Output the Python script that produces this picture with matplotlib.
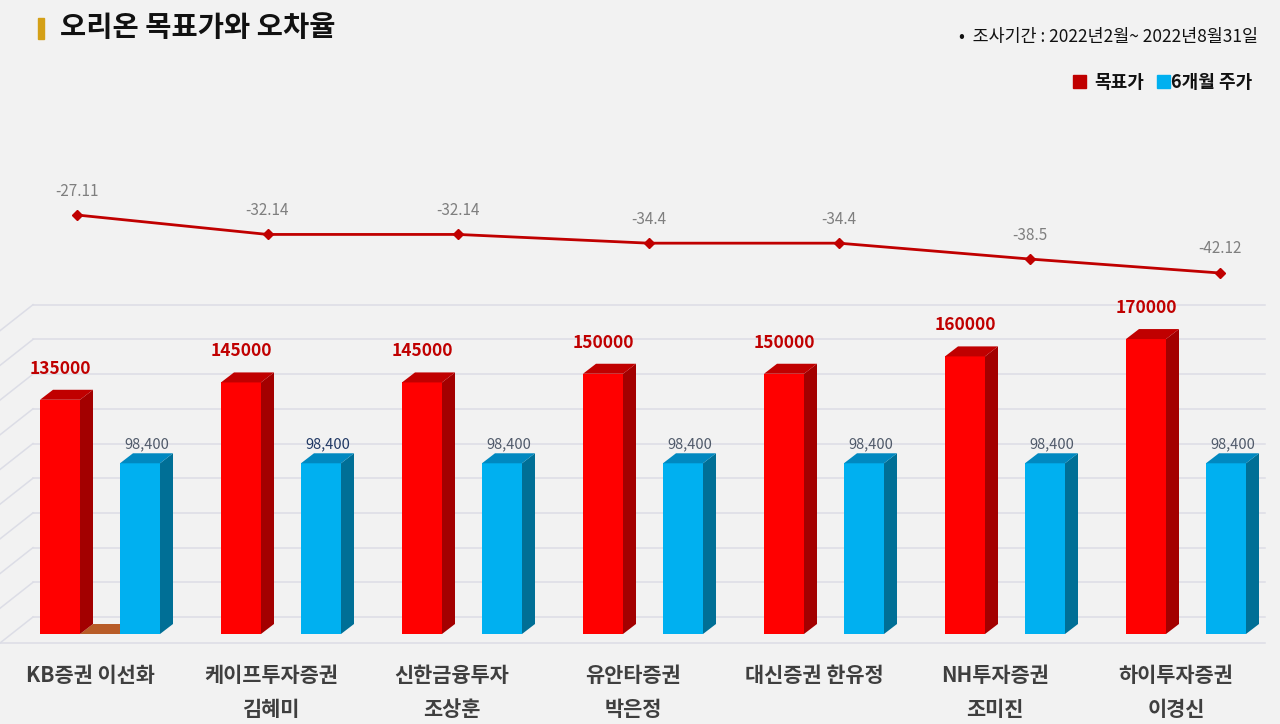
import numpy as np
import matplotlib
matplotlib.use("Agg")
import matplotlib.pyplot as plt
from matplotlib.patches import Polygon, Rectangle

plt.rcParams['font.family'] = ['Noto Sans CJK KR', 'DejaVu Sans']

# 데이터
categories = ["KB증권 이선화", "케이프투자증권\n김혜미", "신한금융투자\n조상훈", "유안타증권\n박은정",
              "대신증권 한유정", "NH투자증권\n조미진", "하이투자증권\n이경신"]
target_price = [135000, 145000, 145000, 150000, 150000, 160000, 170000]
price_6m = [98400, 98400, 98400, 98400, 98400, 98400, 98400]
error_rate = [-27.11, -32.14, -32.14, -34.4, -34.4, -38.5, -42.12]
grid_values = list(range(0, 180001, 20000))

W, H = 1280, 724
fig = plt.figure(figsize=(W / 100, H / 100), dpi=100)
fig.patch.set_facecolor('#f2f2f2')

# 막대용 축 (px 기준으로 스케일 맞춤)
px_x = 181.0          # 카테고리 간격 px
px_y = 1.735e-3       # 값 1당 px
x0_px, base_px = 100, 634
ax = fig.add_axes([0, 0, 1, 1])
ax.set_xlim(-x0_px / px_x, (W - x0_px) / px_x)
ax.set_ylim(-(H - base_px) / px_y, base_px / px_y)
ax.axis('off')
ax.set_facecolor('none')

def px2x(p):
    return p / px_x

def px2y(p):
    return p / px_y

# 벽 / 바닥 격자
wall_off = px2y(17)
x_wall_l = px2x(33 - x0_px)
x_wall_r = px2x(1265 - x0_px)
x_left = px2x(0 - x0_px)
for v in grid_values:
    y = v + wall_off
    ax.plot([x_wall_l, x_wall_r], [y, y], color='#dcdde6', lw=1.1, zorder=1)
    ax.plot([x_wall_l, x_left], [y, y - px2y(26)], color='#dcdde6', lw=1.1, zorder=1)
floor_y = -px2y(9)
ax.plot([x_left, x_wall_r], [floor_y, floor_y], color='#dcdde6', lw=1.1, zorder=1)

# 3D 막대
bw = px2x(40)
ddx, ddy = px2x(13), px2y(10)

def bar3d(xl, val, front, side, top):
    ax.bar(xl, val, width=bw, align='edge', color=front, zorder=3, linewidth=0)
    ax.add_patch(Polygon([[xl + bw, 0], [xl + bw + ddx, ddy], [xl + bw + ddx, val + ddy], [xl + bw, val]],
                         closed=True, color=side, zorder=3, lw=0))
    ax.add_patch(Polygon([[xl, val], [xl + ddx, val + ddy], [xl + bw + ddx, val + ddy], [xl + bw, val]],
                         closed=True, color=top, zorder=3, lw=0))

idx = np.arange(len(categories))
# 첫 그룹 바닥의 주황색 조각
ax.add_patch(Polygon([[0 - px2x(20), 0], [0 - px2x(20) + ddx, ddy], [px2x(20) + ddx, ddy], [px2x(20), 0]],
                     closed=True, color='#b85c28', zorder=2, lw=0))

for i in idx:
    xr = i - px2x(60)
    xb = i + px2x(20)
    bar3d(xr, target_price[i], '#ff0000', '#a30000', '#c00000')
    bar3d(xb, price_6m[i], '#00b0f0', '#006f96', '#0088c0')
    ax.text(xr + bw / 2, target_price[i] + px2y(31), f"{target_price[i]}", ha='center', va='center',
            fontsize=12.5, fontweight='bold', color='#c00000', zorder=5)
    c = '#203864' if i == 1 else '#505a6a'
    ax.text(xb + bw / 2 + px2x(7), price_6m[i] + px2y(19), f"{price_6m[i]:,}", ha='center', va='center',
            fontsize=10.5, color=c, zorder=5)
    lines = categories[i].split('\n')
    for k, ln in enumerate(lines):
        ax.text(i - px2x(10), -px2y(41 + 35 * k), ln, ha='center', va='center',
                fontsize=15, fontweight='bold', color='#3f3f3f')

# 오차율 꺾은선 (별도 축)
lx0, lpx = 77, 190.5
ly_pp = 3.864
ly0_px = 215 - 27.11 * ly_pp
ax2 = fig.add_axes([0, 0, 1, 1])
ax2.set_xlim(-lx0 / lpx, (W - lx0) / lpx)
ax2.set_ylim(-(H - ly0_px) / ly_pp, ly0_px / ly_pp)
ax2.axis('off')
ax2.patch.set_alpha(0)
ax2.plot(idx, error_rate, color='#c00000', lw=2, marker='D', markersize=5, zorder=6)
for i in idx:
    ax2.text(i, error_rate[i] + 24 / ly_pp, f"{error_rate[i]}", ha='center', va='center',
             fontsize=11, color='#7f7f7f')

# 제목 / 부제 / 범례
fig.patches.append(Rectangle((38 / W, 1 - 39 / H), 6 / W, 21 / H, transform=fig.transFigure,
                             color='#d4a017', zorder=5))
fig.text(60 / W, 1 - 28 / H, "오리온 목표가와 오차율", ha='left', va='center',
         fontsize=20.5, fontweight='bold', color='#111111')
fig.text(1258 / W, 1 - 37 / H, "•  조사기간 : 2022년2월~ 2022년8월31일", ha='right', va='center',
         fontsize=12.5, color='#111111')
fig.patches.append(Rectangle((1073 / W, 1 - 88 / H), 13 / W, 13 / H, transform=fig.transFigure,
                             color='#c00000'))
fig.text(1094 / W, 1 - 82 / H, "목표가", ha='left', va='center', fontsize=13, fontweight='bold',
         color='#111111')
fig.patches.append(Rectangle((1157 / W, 1 - 88 / H), 13 / W, 13 / H, transform=fig.transFigure,
                             color='#00b0f0'))
fig.text(1171 / W, 1 - 82 / H, "6개월 주가", ha='left', va='center', fontsize=13, fontweight='bold',
         color='#111111')

fig.savefig('out.png', dpi=100, facecolor=fig.get_facecolor())
